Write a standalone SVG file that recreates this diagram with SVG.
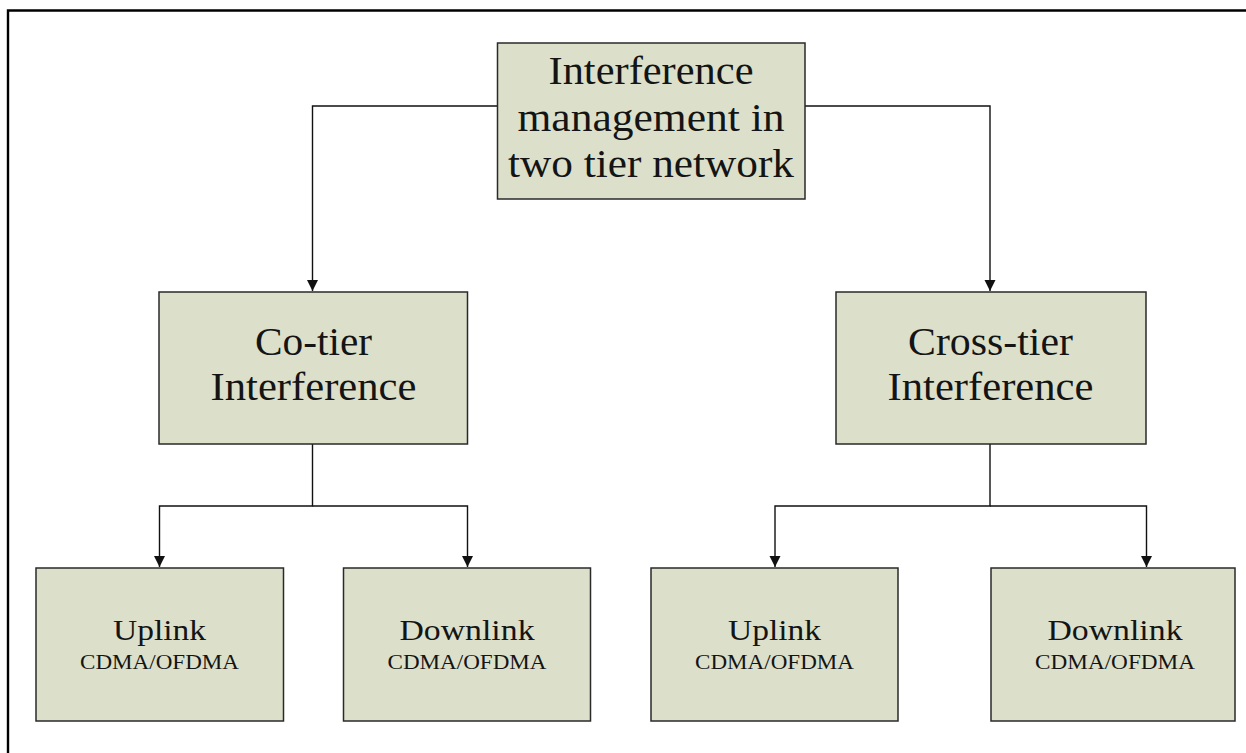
<svg xmlns="http://www.w3.org/2000/svg" width="1246" height="753" viewBox="0 0 1246 753">
<style>
.box{fill:#dce0cb;stroke:#2a2a2a;stroke-width:1.5}
.t{font-family:"Liberation Serif","Times New Roman",serif;fill:#141414;text-anchor:middle}
.big{font-size:40px}
.mid{font-size:39px}
.leaf{font-size:29px}
.sub{font-size:22px}
.conn path{fill:none;stroke:#111;stroke-width:1.4}
</style>
<defs>
<marker id="arr" markerUnits="userSpaceOnUse" markerWidth="12" markerHeight="12" refX="11" refY="5.5" orient="auto">
<path d="M0,0 L11,5.5 L0,11 z" fill="#111"/>
</marker>
</defs>
<rect width="1246" height="753" fill="#fff"/>
<path d="M8,753 V10.5 H1246" fill="none" stroke="#000" stroke-width="2.4"/>
<g class="conn">
<path d="M497,106 H312.5 V291" marker-end="url(#arr)"/>
<path d="M805,106 H990 V291" marker-end="url(#arr)"/>
<path d="M312.5,444 V506 H159.5 V567" marker-end="url(#arr)"/>
<path d="M312.5,506 H467.5 V567" marker-end="url(#arr)"/>
<path d="M990,444 V506 H775 V567" marker-end="url(#arr)"/>
<path d="M990,506 H1146.5 V567" marker-end="url(#arr)"/>
</g>
<g id="root">
<rect class="box" x="497.5" y="43" width="307.5" height="156"/>
<text class="t big" x="651" y="84" textLength="205" lengthAdjust="spacingAndGlyphs">Interference</text>
<text class="t big" x="651" y="131" textLength="267" lengthAdjust="spacingAndGlyphs">management in</text>
<text class="t big" x="651" y="177" textLength="286" lengthAdjust="spacingAndGlyphs">two tier network</text>
</g>
<g id="cotier">
<rect class="box" x="159" y="292" width="308.5" height="152"/>
<text class="t mid" x="313.5" y="355" textLength="117" lengthAdjust="spacingAndGlyphs">Co-tier</text>
<text class="t mid" x="313.5" y="400" textLength="206" lengthAdjust="spacingAndGlyphs">Interference</text>
</g>
<g id="crosstier">
<rect class="box" x="836" y="292" width="310" height="152"/>
<text class="t mid" x="990.5" y="355" textLength="165" lengthAdjust="spacingAndGlyphs">Cross-tier</text>
<text class="t mid" x="990.5" y="400" textLength="206" lengthAdjust="spacingAndGlyphs">Interference</text>
</g>
<g id="uplink1">
<rect class="box" x="36" y="568" width="247.5" height="153"/>
<text class="t leaf" x="159.5" y="640" textLength="93" lengthAdjust="spacingAndGlyphs">Uplink</text>
<text class="t sub" x="159.5" y="669" textLength="159" lengthAdjust="spacingAndGlyphs">CDMA/OFDMA</text>
</g>
<g id="downlink1">
<rect class="box" x="343.5" y="568" width="247" height="153"/>
<text class="t leaf" x="467" y="640" textLength="135" lengthAdjust="spacingAndGlyphs">Downlink</text>
<text class="t sub" x="467" y="669" textLength="159" lengthAdjust="spacingAndGlyphs">CDMA/OFDMA</text>
</g>
<g id="uplink2">
<rect class="box" x="651" y="568" width="247" height="153"/>
<text class="t leaf" x="774.5" y="640" textLength="93" lengthAdjust="spacingAndGlyphs">Uplink</text>
<text class="t sub" x="774.5" y="669" textLength="159" lengthAdjust="spacingAndGlyphs">CDMA/OFDMA</text>
</g>
<g id="downlink2">
<rect class="box" x="991" y="568" width="244" height="153"/>
<text class="t leaf" x="1115" y="640" textLength="135" lengthAdjust="spacingAndGlyphs">Downlink</text>
<text class="t sub" x="1115" y="669" textLength="160" lengthAdjust="spacingAndGlyphs">CDMA/OFDMA</text>
</g>
</svg>
